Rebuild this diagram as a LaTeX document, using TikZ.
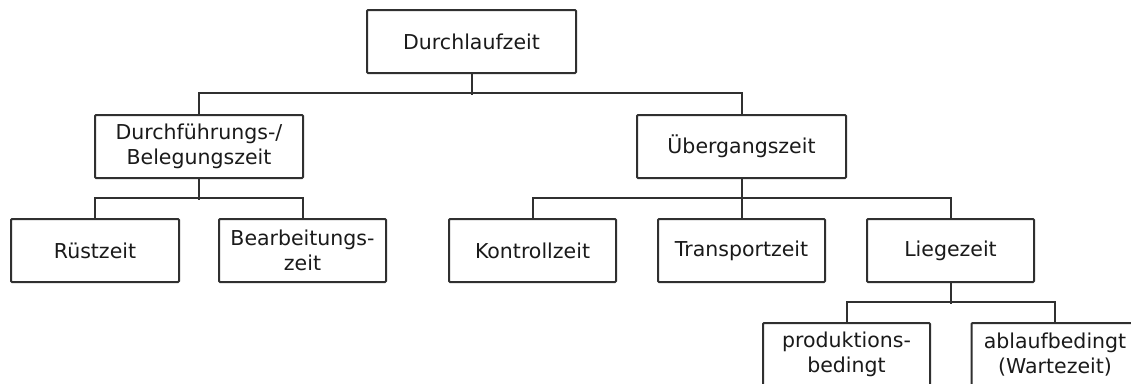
\documentclass[tikz,border=0pt]{standalone}
\usepackage{fontspec}
\setmainfont{DejaVu Sans}
\definecolor{linecol}{HTML}{303030}
\definecolor{textcol}{HTML}{1A1A1A}
\begin{document}
\begin{tikzpicture}[x=1pt,y=-1pt,
  box/.style={draw=linecol, line width=2pt, rounded corners=1pt, inner sep=0pt,
    minimum height=63pt, align=center, text=textcol,
    font=\fontsize{20.5}{25}\selectfont},
  wide/.style={box, minimum width=208pt},
  leaf/.style={box, minimum width=167pt},
  conn/.style={draw=linecol, line width=2pt}]
\useasboundingbox (0,0) rectangle (1131,383);
\clip (0,0) rectangle (1131,383);
\fill[white] (0,0) rectangle (1131,383);
\node[wide, minimum width=209pt] (top) at (471.5,41.5) {Durchlaufzeit};
\node[wide] (D) at (199,146.5) {Durchführungs-/\\Belegungszeit};
\node[wide, minimum width=209pt] (U) at (741.5,146.5) {Übergangszeit};
\node[leaf, minimum width=168pt] (R) at (95,250.5) {Rüstzeit};
\node[leaf] (B) at (302.5,250.5) {Bearbeitungs-\\zeit};
\node[leaf] (K) at (532.5,250.5) {Kontrollzeit};
\node[leaf] (T) at (741.5,250.5) {Transportzeit};
\node[leaf] (L) at (950.5,250.5) {Liegezeit};
\node[leaf] (P) at (846.5,354.5) {produktions-\\bedingt};
\node[leaf] (A) at (1055,354.5) {ablaufbedingt\\(Wartezeit)};
\draw[conn] (top.south) -- ++(0,21);
\draw[conn] (D.north) -- ++(0,-21) -| (U.north);
\draw[conn] (D.south) -- ++(0,21);
\draw[conn] (R.north) -- ++(0,-20) -| (B.north);
\draw[conn] (U.south) -- (T.north);
\draw[conn] (K.north) -- ++(0,-20) -| (L.north);
\draw[conn] (L.south) -- ++(0,21);
\draw[conn] (P.north) -- ++(0,-20) -| (A.north);
\end{tikzpicture}
\end{document}
